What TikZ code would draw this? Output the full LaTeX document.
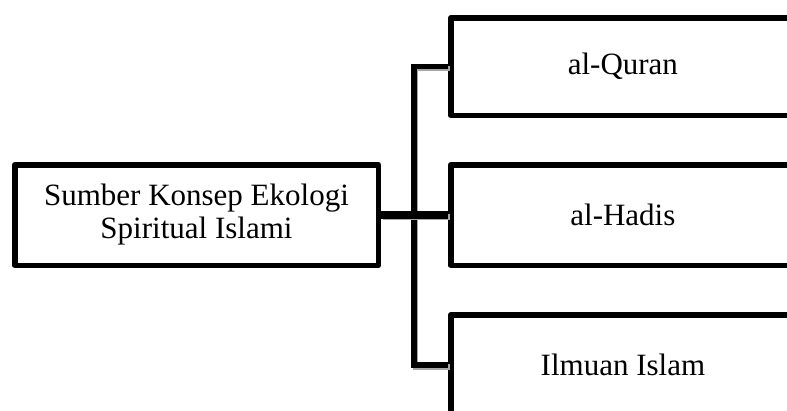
\documentclass[tikz,border=0pt]{standalone}
\usepackage{fontspec}
\setmainfont{Liberation Serif}
\usetikzlibrary{shadows}
\begin{document}
\begin{tikzpicture}[x=1pt,y=1pt,
  box/.style={draw=black, fill=white, line width=5.5pt, line join=round, inner sep=0pt,
    align=center, font=\fontsize{31}{33}\selectfont,
    drop shadow={shadow xshift=1.5pt, shadow yshift=-2pt, opacity=0.3}},
  link/.style={draw=black, line width=5.5pt,
    preaction={draw=black!35, line width=5.5pt, transform canvas={shift={(1.5pt,-2pt)}}}},
  mainlink/.style={link, line width=7.5pt}]
\useasboundingbox (0,0) rectangle (787,-410);
\clip (0,0) rectangle (787,-410);
\fill[white] (0,0) rectangle (787,-410);
\node[box, minimum width=363.5pt, minimum height=100.5pt] (root) at (196.5,-215) {Sumber Konsep Ekologi\\Spiritual Islami};
\node[box, minimum width=344.25pt, minimum height=97.5pt] (quran) at (622.9,-66.5) {al-Quran};
\node[box, minimum width=344.25pt, minimum height=100.5pt] (hadis) at (622.9,-215) {al-Hadis};
\node[box, minimum width=344.25pt, minimum height=100.5pt] (ilmuan) at (622.9,-365) {Ilmuan Islam};
\coordinate (bus) at (414,0);
\draw[link] (quran.west) -| (bus |- ilmuan.west) -- (ilmuan.west);
\draw[mainlink] (root.east) -- (hadis.west);
\end{tikzpicture}
\end{document}
